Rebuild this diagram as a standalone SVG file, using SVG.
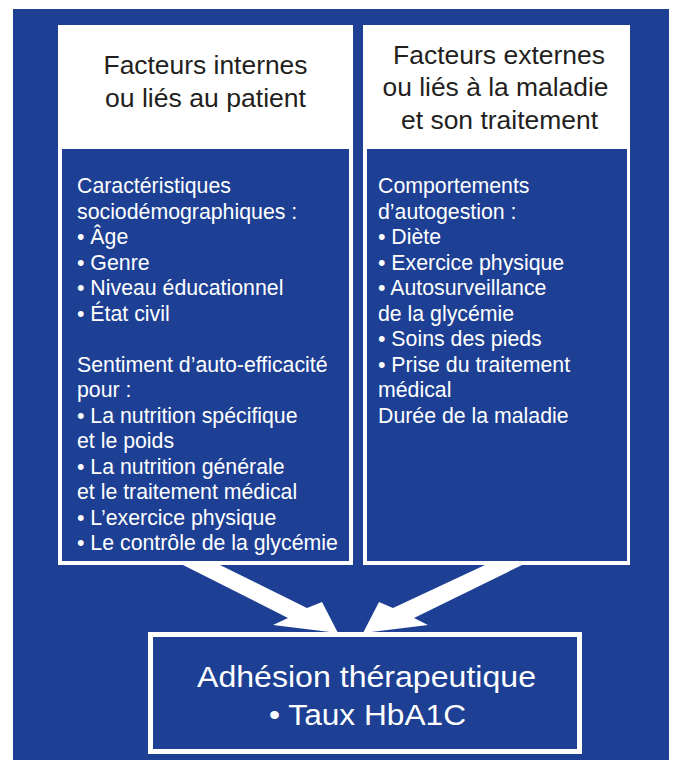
<svg xmlns="http://www.w3.org/2000/svg" width="675" height="760" viewBox="0 0 675 760">
  <style>
    .hdr { font-family: "Liberation Sans", Arial, sans-serif; font-size: 26.5px; fill: #231f20; text-anchor: middle; }
    .body { font-family: "Liberation Sans", Arial, sans-serif; font-size: 21.3px; fill: #ffffff; }
    .out { font-family: "Liberation Sans", Arial, sans-serif; font-size: 30px; fill: #ffffff; text-anchor: middle; }
    .panel { fill: #ffffff; }
    .inner { fill: #1d3f94; }
    .arrow { fill: #ffffff; }
  </style>
  <rect x="13" y="9" width="656" height="751" fill="#1d3f94"/>

  <g id="node-internes">
    <rect class="panel" x="58" y="25" width="295" height="540"/>
    <rect class="inner" x="62" y="149" width="287" height="412"/>
    <text class="hdr" x="205.5" y="74" textLength="204" lengthAdjust="spacingAndGlyphs">Facteurs internes</text>
    <text class="hdr" x="205.5" y="107" textLength="201" lengthAdjust="spacingAndGlyphs">ou liés au patient</text>
    <text class="body" x="77" y="193">Caractéristiques</text>
    <text class="body" x="77" y="218.5">sociodémographiques :</text>
    <text class="body" x="77" y="244">• Âge</text>
    <text class="body" x="77" y="269.5">• Genre</text>
    <text class="body" x="77" y="295">• Niveau éducationnel</text>
    <text class="body" x="77" y="320.5">• État civil</text>
    <text class="body" x="77" y="371.5">Sentiment d’auto-efficacité</text>
    <text class="body" x="77" y="397">pour :</text>
    <text class="body" x="77" y="422.5">• La nutrition spécifique</text>
    <text class="body" x="77" y="448">et le poids</text>
    <text class="body" x="77" y="473.5">• La nutrition générale</text>
    <text class="body" x="77" y="499">et le traitement médical</text>
    <text class="body" x="77" y="524.5">• L’exercice physique</text>
    <text class="body" x="77" y="550">• Le contrôle de la glycémie</text>
  </g>

  <g id="node-externes">
    <rect class="panel" x="363" y="25" width="267" height="540"/>
    <rect class="inner" x="367" y="149" width="260" height="412"/>
    <text class="hdr" x="499" y="63.5" textLength="212" lengthAdjust="spacingAndGlyphs">Facteurs externes</text>
    <text class="hdr" x="495.5" y="96" textLength="226" lengthAdjust="spacingAndGlyphs">ou liés à la maladie</text>
    <text class="hdr" x="499.5" y="128.5" textLength="197" lengthAdjust="spacingAndGlyphs">et son traitement</text>
    <text class="body" x="378" y="193">Comportements</text>
    <text class="body" x="378" y="218.5">d’autogestion :</text>
    <text class="body" x="378" y="244">• Diète</text>
    <text class="body" x="378" y="269.5">• Exercice physique</text>
    <text class="body" x="378" y="295">• Autosurveillance</text>
    <text class="body" x="378" y="320.5">de la glycémie</text>
    <text class="body" x="378" y="346">• Soins des pieds</text>
    <text class="body" x="378" y="371.5">• Prise du traitement</text>
    <text class="body" x="378" y="397">médical</text>
    <text class="body" x="378" y="422.5">Durée de la maladie</text>
  </g>

  <g id="connectors">
    <polygon class="arrow" points="183,565 220,565 307,608 322,602 338,633 273,625 288,618"/>
    <polygon class="arrow" points="485,565 522,565 414,618 428,625 363,633 379,602 393,608"/>
  </g>

  <g id="node-adhesion">
    <rect x="150.5" y="634.5" width="429" height="117" fill="none" stroke="#ffffff" stroke-width="5"/>
    <text class="out" x="366.5" y="687" textLength="339" lengthAdjust="spacingAndGlyphs">Adhésion thérapeutique</text>
    <text class="out" x="367.5" y="725" textLength="197" lengthAdjust="spacingAndGlyphs">• Taux HbA1C</text>
  </g>
</svg>
